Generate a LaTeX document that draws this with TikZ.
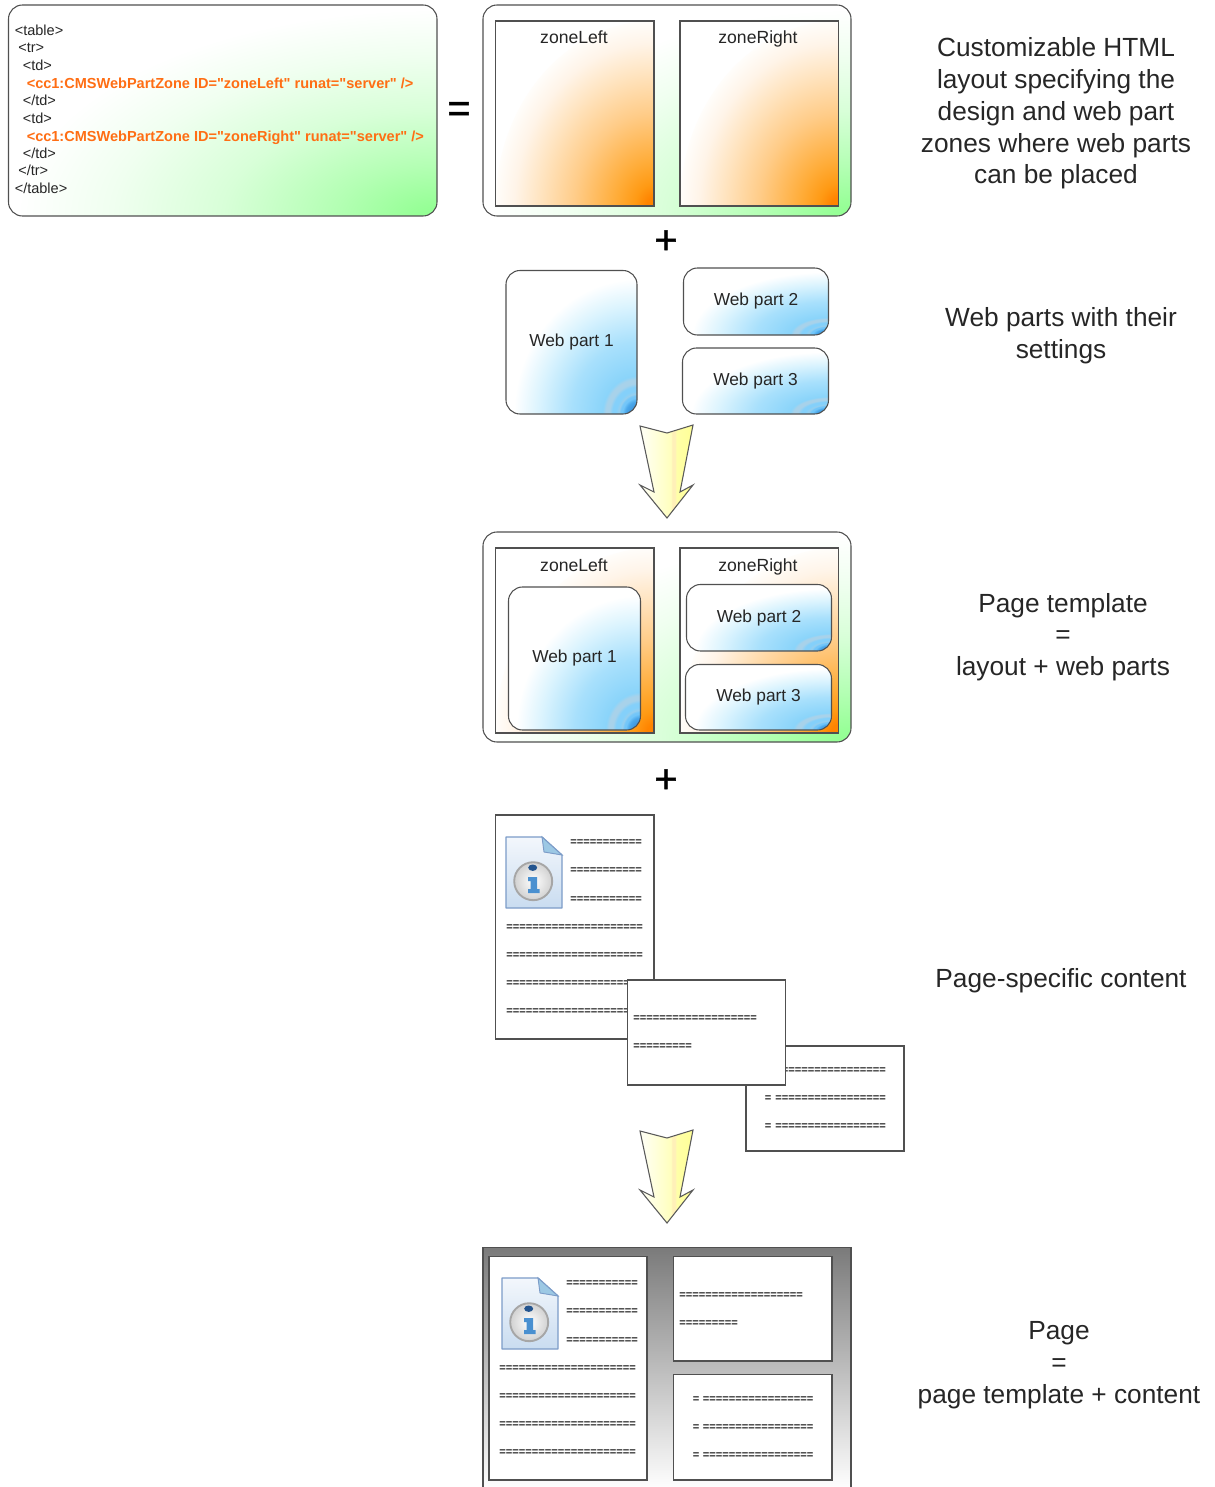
\documentclass[tikz,border=0pt]{standalone}
\usepackage{fontspec}
\setmainfont{Liberation Sans}
\newfontfamily\codefont{Liberation Sans}
\newfontface\signfont{Liberation Sans}[FakeBold=1.2]
\definecolor{inkc}{HTML}{262626}
\definecolor{linec}{HTML}{505050}
\definecolor{orangec}{HTML}{FF6E14}
\definecolor{grA}{HTML}{90FF90}
\definecolor{grB}{HTML}{98FF98}
\definecolor{grC}{HTML}{B4FFB4}
\definecolor{grD}{HTML}{D8FFD8}
\definecolor{grE}{HTML}{F0FFF0}
\definecolor{orA}{HTML}{FF8400}
\definecolor{orB}{HTML}{FF9A14}
\definecolor{orC}{HTML}{FFAC38}
\definecolor{orD}{HTML}{FFCC88}
\definecolor{orE}{HTML}{FFE4C0}
\definecolor{orF}{HTML}{FFF4E8}
\definecolor{orG}{HTML}{FFFDFA}
\definecolor{blA}{HTML}{2F7FCC}
\definecolor{blB}{HTML}{4BA8EA}
\definecolor{blC}{HTML}{72C6F9}
\definecolor{blD}{HTML}{97CFEE}
\definecolor{blE}{HTML}{84D0FA}
\definecolor{blF}{HTML}{A8D2EA}
\definecolor{blG}{HTML}{8AD4FA}
\definecolor{blH}{HTML}{A8E0FC}
\definecolor{blI}{HTML}{DCF4FE}
\definecolor{ylA}{HTML}{FFFFF0}
\definecolor{ylB}{HTML}{FFFFBE}
\definecolor{ylC}{HTML}{FFF0B8}
\definecolor{ylD}{HTML}{FFFFA8}
\definecolor{ylE}{HTML}{FFFF96}
\definecolor{icoEdge}{HTML}{7C9CC8}
\definecolor{icoTop}{HTML}{F3F7FC}
\definecolor{icoBot}{HTML}{C9DCF0}
\definecolor{icoFold}{HTML}{9CC8E4}
\definecolor{icoStem}{HTML}{4A90D0}
\definecolor{icoDot}{HTML}{24558F}
\pgfdeclareradialshading{greenglow}{\pgfpoint{0bp}{0bp}}{color(0bp)=(grA);color(1.5bp)=(grB);color(6bp)=(grC);color(12.5bp)=(grD);color(19bp)=(grE);color(24.5bp)=(white);color(50bp)=(white)}
\pgfdeclareradialshading{orangeglow}{\pgfpoint{0bp}{0bp}}{color(0bp)=(orA);color(1.2bp)=(orA);color(3bp)=(orB);color(6bp)=(orC);color(12.5bp)=(orD);color(18bp)=(orE);color(22bp)=(orF);color(25bp)=(orG);color(50bp)=(white)}
\pgfdeclareradialshading{blueglow}{\pgfpoint{0bp}{0bp}}{color(0bp)=(blA);color(2.2bp)=(blB);color(2.8bp)=(blC);color(3.1bp)=(blC);color(3.5bp)=(blD);color(4bp)=(blE);color(4.7bp)=(blE);color(5.3bp)=(blF);color(6bp)=(blF);color(6.6bp)=(blG);color(12.5bp)=(blH);color(19bp)=(blI);color(23.5bp)=(white);color(50bp)=(white)}
\pgfdeclarehorizontalshading{arrowshade}{100bp}{color(0bp)=(ylA);color(29bp)=(ylA);color(54bp)=(ylB);color(55.5bp)=(ylC);color(58bp)=(ylC);color(59.5bp)=(ylD);color(75bp)=(ylE);color(100bp)=(ylE)}
\tikzset{
  pixels/.style={x=0.75pt,y=-0.75pt},
  frameline/.style={draw=linec,line width=0.8pt},
  panelbox/.style={frameline,fill=white,rounded corners=10.5pt,inner sep=0pt,
    path picture={\shade[shading=greenglow] (path picture bounding box.south east) ellipse [x radius=\boxW pt,y radius=\boxH pt];}},
  zonebox/.style={frameline,fill=white,inner sep=0pt,
    path picture={\shade[shading=orangeglow] (path picture bounding box.south east) ellipse [x radius=\boxW pt,y radius=\boxH pt];}},
  partbox/.style={frameline,fill=white,rounded corners=10.5pt,inner sep=0pt,font=\fontsize{13}{15}\selectfont,text=inkc,
    path picture={\shade[shading=blueglow] (path picture bounding box.south east) ellipse [x radius=\boxW pt,y radius=\boxH pt];}},
  sheetbox/.style={frameline,fill=white,inner sep=0pt},
  pagebox/.style={frameline,top color=black!52,bottom color=white,inner sep=0pt},
  zonelabel/.style={inner sep=0pt,anchor=base,text=inkc,font=\fontsize{13.2}{15}\selectfont},
  note/.style={inner sep=0pt,text=inkc,align=center,font=\fontsize{19.7}{23.8}\selectfont},
  codeline/.style={inner sep=0pt,anchor=west,text=inkc,font=\fontsize{10.9}{12}\selectfont\codefont},
  codehot/.style={inner sep=0pt,anchor=west,text=orangec,font=\fontsize{10.9}{12}\selectfont\codefont\bfseries},
  bigsign/.style={inner sep=0pt,text=black,font=\fontsize{30}{30}\selectfont\signfont},
  dashtext/.style={inner sep=0pt,anchor=west,yshift=-1.5pt,text=black!85,font=\fontsize{8.35}{10}\selectfont\bfseries},
  bigarrow/.style={draw=black!65,line width=0.8pt,line join=miter,shading=arrowshade}
}
\newcommand{\gbox}[7]{%
  \pgfmathsetmacro\boxW{(#5-#3)*0.75}%
  \pgfmathsetmacro\boxH{(#6-#4)*0.75}%
  \node[#1,minimum width=\boxW pt,minimum height=\boxH pt] (#2) at ({(#3+#5)/2},{(#4+#6)/2}) {#7};}
\newcommand{\flowarrow}[1]{%
  \path[bigarrow,shift={(0,#1)}] (640,426) -- (667,433) -- (693,425) -- (680,492) -- (693,485) -- (667,518) -- (640,485) -- (654,492) -- cycle;}
\newcommand{\infoicon}[2]{%
  \begin{scope}[shift={(#1,#2)}]
    \path[draw=icoEdge,line width=1pt,line join=round,top color=icoTop,bottom color=icoBot] (0,0) -- (36,0) -- (56,18) -- (56,71) -- (0,71) -- cycle;
    \path[draw=icoEdge,line width=0.7pt,fill=icoFold] (36,0) -- (56,18) -- (38,15) -- cycle;
    \path[draw=black!35,line width=1.4pt,inner color=white,outer color=black!18] (27.2,44.2) circle [radius=19];
    \path[fill=icoDot] (26.7,30.7) ellipse [x radius=4.5,y radius=3.2];
    \path[fill=icoStem] (22,40) -- (31,40) -- (31,52) -- (33.5,52) -- (33.5,56) -- (22,56) -- (22,52) -- (24.5,52) -- (24.5,44) -- (22,44) -- cycle;
  \end{scope}}
\def\dashS{===========}
\def\dashL{=====================}
\def\dashM{===================}
\def\dashN{=========}
\def\dashB{=================}
\begin{document}
\begin{tikzpicture}[pixels]
\useasboundingbox (0,0) rectangle (1214,1487);
% code box
\gbox{panelbox}{codebox}{8.5}{5}{437}{216}{}
\node[codeline] (c1) at (14.5,30) {<table>};
\node[codeline] (c2) at (18,47.5) {<tr>};
\node[codeline] (c3) at (22.5,65) {<td>};
\node[codehot] (c4) at (26.5,83) {<cc1:CMSWebPartZone ID="zoneLeft" runat="server" />};
\node[codeline] (c5) at (22.5,100) {</td>};
\node[codeline] (c6) at (22.5,118) {<td>};
\node[codehot] (c7) at (26.5,137.5) {<cc1:CMSWebPartZone ID="zoneRight" runat="server" />};
\node[codeline] (c8) at (22.5,153) {</td>};
\node[codeline] (c9) at (18,170.5) {</tr>};
\node[codeline] (c10) at (14.5,188) {</table>};
\node[bigsign] (eqsign) at (459,112) {=};
% layout
\gbox{panelbox}{layout}{483}{5}{851}{216}{}
\gbox{zonebox}{zoneA}{495.5}{21}{654}{206}{}
\gbox{zonebox}{zoneB}{680}{21}{838.5}{206}{}
\node[zonelabel] (zoneAt) at (574,44) {zoneLeft};
\node[zonelabel] (zoneBt) at (758,44) {zoneRight};
\node[bigsign] (plusA) at (666,242) {+};
% web parts
\gbox{partbox}{wpA}{506}{270.5}{637}{414}{Web part 1}
\gbox{partbox}{wpB}{683.5}{268}{828.5}{335}{Web part 2}
\gbox{partbox}{wpC}{682.5}{348}{828.5}{414}{Web part 3}
\flowarrow{0}
% template
\gbox{panelbox}{template}{483}{532}{851}{742}{}
\gbox{zonebox}{zoneC}{495.5}{548}{654}{733}{}
\gbox{zonebox}{zoneD}{680}{548}{838.5}{733}{}
\node[zonelabel] (zoneCt) at (574,571) {zoneLeft};
\node[zonelabel] (zoneDt) at (758,571) {zoneRight};
\gbox{partbox}{wpD}{508.5}{587}{640.5}{730}{Web part 1}
\gbox{partbox}{wpE}{686.5}{584.5}{831.5}{651}{Web part 2}
\gbox{partbox}{wpF}{685.5}{664.5}{831.5}{730}{Web part 3}
\node[bigsign] (plusB) at (666,781) {+};
% content
\gbox{sheetbox}{sheetA}{495.5}{815}{654}{1039}{}
\infoicon{506}{837}
\foreach \y [count=\i] in {841,869,898} \node[dashtext] (sa\i) at (570,\y) {\dashS};
\foreach \y [count=\i] in {926,954,982,1010} \node[dashtext] (sb\i) at (506,\y) {\dashL};
\gbox{sheetbox}{sheetC}{746}{1046}{904}{1151}{}
\foreach \y [count=\i] in {1069,1097,1125} {
  \node[dashtext] (sc\i) at (764.5,\y) {=};
  \node[dashtext] (sd\i) at (775,\y) {\dashB};
}
\gbox{sheetbox}{sheetB}{627.5}{980}{785.5}{1085}{}
\node[dashtext] (se1) at (633,1017) {\dashM};
\node[dashtext] (se2) at (633,1045) {\dashN};
\flowarrow{705}
% page
\gbox{pagebox}{page}{483}{1247.5}{851}{1490}{}
\gbox{sheetbox}{pageA}{489}{1256.5}{647}{1480}{}
\infoicon{502}{1278}
\foreach \y [count=\i] in {1282,1310,1339} \node[dashtext] (pa\i) at (566,\y) {\dashS};
\foreach \y [count=\i] in {1367,1395,1423,1451} \node[dashtext] (pb\i) at (499,\y) {\dashL};
\gbox{sheetbox}{pageB}{673.5}{1256.5}{832}{1361}{}
\node[dashtext] (pc1) at (679,1294) {\dashM};
\node[dashtext] (pc2) at (679,1322) {\dashN};
\gbox{sheetbox}{pageC}{673.5}{1374.5}{832}{1480}{}
\foreach \y [count=\i] in {1398,1426,1454} {
  \node[dashtext] (pd\i) at (692.5,\y) {=};
  \node[dashtext] (pe\i) at (702.5,\y) {\dashB};
}
% notes
\node[note] (noteA) at (1056,113.5) {Customizable HTML\\layout specifying the\\design and web part\\zones where web parts\\can be placed};
\node[note] (noteB) at (1061,336) {Web parts with their\\settings};
\node[note] (noteC) at (1063,637) {Page template\\=\\layout + web parts};
\node[note] (noteD) at (1061,981) {Page-specific content};
\node[note] (noteE) at (1059,1365) {Page\\=\\page template + content};
\end{tikzpicture}
\end{document}
